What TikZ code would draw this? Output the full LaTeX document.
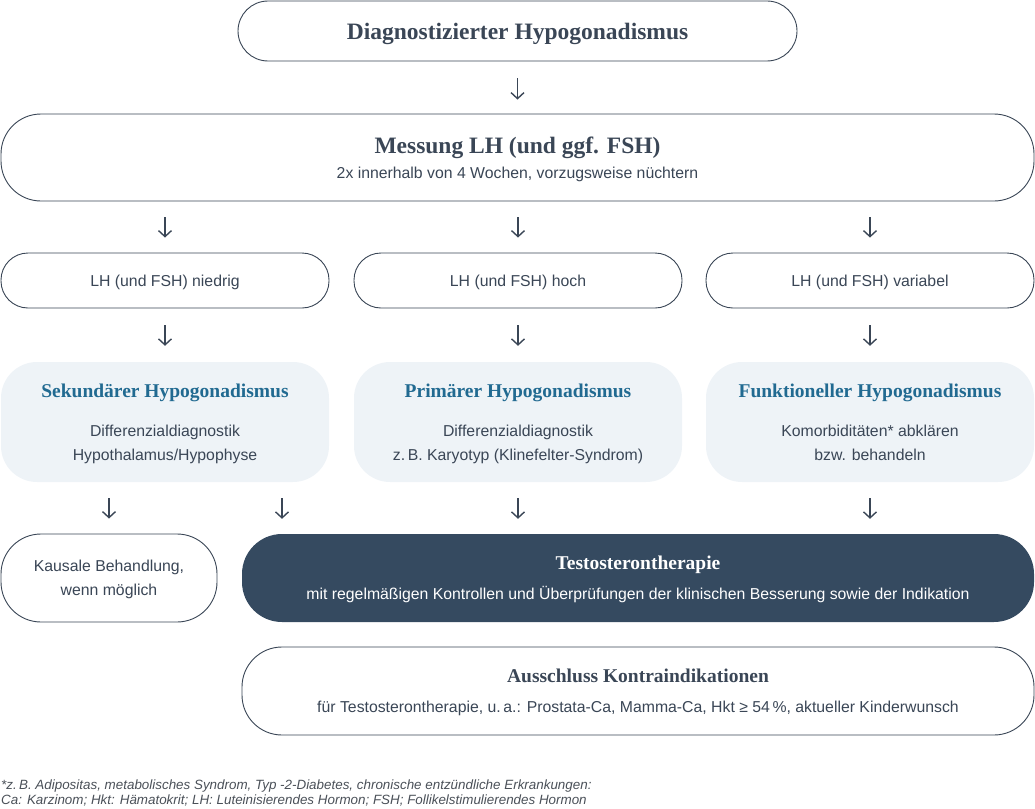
\documentclass[tikz,border=0pt]{standalone}
\usepackage{fontspec}
\setmainfont{Liberation Sans}
\newfontfamily\titlefont{Liberation Serif}
\usetikzlibrary{arrows.meta}
\definecolor{ink}{HTML}{3A4656}
\definecolor{teal}{HTML}{216A91}
\definecolor{navy}{HTML}{354A60}
\definecolor{pale}{HTML}{EEF3F7}
\definecolor{note}{HTML}{4A5058}
\newcommand{\Bdy}{\fontsize{15.8}{24}\selectfont}
\newcommand{\Ttl}[1]{{\titlefont\bfseries\fontsize{23.5}{26}\selectfont #1}}
\newcommand{\Sttl}[1]{{\titlefont\bfseries\fontsize{19.5}{22}\selectfont #1}}
\tikzset{
  box/.style={draw=ink, line width=0.9pt, fill=white, text=ink, align=center, inner sep=0pt, font=\Bdy, text depth=0pt},
  softbox/.style={fill=pale, text=ink, align=center, inner sep=0pt, rounded corners=36pt, font=\Bdy, text depth=0pt},
  darkbox/.style={fill=navy, text=white, align=center, inner sep=0pt, rounded corners=40pt, font=\Bdy, text depth=0pt},
  flow/.style={-{Straight Barb[length=6pt,width=13pt,line width=1.4pt]}, line width=1.4pt, draw=ink},
}
\begin{document}
\begin{tikzpicture}[x=1pt,y=-1pt]
\useasboundingbox (0,0) rectangle (1035,808);
% boxes
\node[box, rounded corners=30pt, minimum width=559pt, minimum height=60pt] (diag) at (517.5,31) {\Ttl{Diagnostizierter Hypogonadismus}};
\node[box, rounded corners=40pt, minimum width=1033pt, minimum height=87pt] (mess) at (517.5,157.5)
  {\Ttl{Messung LH (und ggf. FSH)}\\[1pt]2x innerhalb von 4 Wochen, vorzugsweise nüchtern};
\node[box, rounded corners=27pt, minimum width=328pt, minimum height=55pt] (low) at (165,280.5) {LH (und FSH) niedrig};
\node[box, rounded corners=27pt, minimum width=328pt, minimum height=55pt] (high) at (518,280.5) {LH (und FSH) hoch};
\node[box, rounded corners=27pt, minimum width=328pt, minimum height=55pt] (var) at (870,280.5) {LH (und FSH) variabel};
\node[softbox, minimum width=328pt, minimum height=120pt] (sek) at (165,422)
  {\textcolor{teal}{\Sttl{Sekundärer Hypogonadismus}}\\[15pt]Differenzialdiagnostik\\Hypothalamus/Hypophyse};
\node[softbox, minimum width=328pt, minimum height=120pt] (prim) at (518,422)
  {\textcolor{teal}{\Sttl{Primärer Hypogonadismus}}\\[15pt]Differenzialdiagnostik\\z.\,B. Karyotyp (Klinefelter-Syndrom)};
\node[softbox, minimum width=328pt, minimum height=120pt] (funk) at (870,422)
  {\textcolor{teal}{\Sttl{Funktioneller Hypogonadismus}}\\[15pt]Komorbiditäten* abklären\\bzw. behandeln};
\node[box, rounded corners=40pt, minimum width=216pt, minimum height=88pt] (kaus) at (109,578) {Kausale Behandlung,\\wenn möglich};
\node[darkbox, minimum width=792pt, minimum height=88pt] (testo) at (638,578)
  {\Sttl{Testosterontherapie}\\[6pt]mit regelmäßigen Kontrollen und Überprüfungen der klinischen Besserung sowie der Indikation};
\node[box, rounded corners=40pt, minimum width=792pt, minimum height=88pt] (aus) at (638,691)
  {\Sttl{Ausschluss Kontraindikationen}\\[6pt]für Testosterontherapie, u.\,a.: Prostata-Ca, Mamma-Ca, Hkt ≥ 54\,\%, aktueller Kinderwunsch};
% footnote
\node[anchor=north west, inner sep=0pt, align=left, text=note, font=\itshape\fontsize{13.4}{14.5}\selectfont] (fn) at (1,780)
  {*z.\,B. Adipositas, metabolisches Syndrom, Typ -2-Diabetes, chronische entzündliche Erkrankungen:\\Ca: Karzinom; Hkt: Hämatokrit; LH: Luteinisierendes Hormon; FSH; Follikelstimulierendes Hormon};
% arrows
\draw[flow, shorten <=17pt, shorten >=14pt] (diag.south) -- (mess.north);
\draw[flow, shorten <=16pt, shorten >=15pt] (mess.south -| low) -- (low.north);
\draw[flow, shorten <=16pt, shorten >=15pt] (mess.south -| high) -- (high.north);
\draw[flow, shorten <=16pt, shorten >=15pt] (mess.south -| var) -- (var.north);
\draw[flow, shorten <=17pt, shorten >=16pt] (low.south) -- (sek.north);
\draw[flow, shorten <=17pt, shorten >=16pt] (high.south) -- (prim.north);
\draw[flow, shorten <=17pt, shorten >=16pt] (var.south) -- (funk.north);
\coordinate (sekA) at ([xshift=-56pt]sek.south);
\coordinate (sekB) at ([xshift=117pt]sek.south);
\draw[flow, shorten <=16pt, shorten >=15pt] (sekA) -- (sekA |- kaus.north);
\draw[flow, shorten <=16pt, shorten >=15pt] (sekB) -- (sekB |- testo.north);
\draw[flow, shorten <=16pt, shorten >=15pt] (prim.south) -- (prim.south |- testo.north);
\draw[flow, shorten <=16pt, shorten >=15pt] (funk.south) -- (funk.south |- testo.north);
\end{tikzpicture}
\end{document}
